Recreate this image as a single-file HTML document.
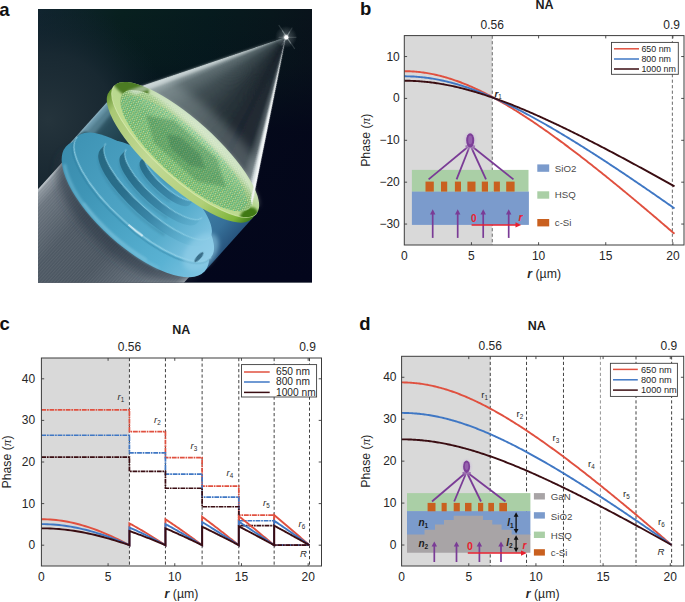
<!DOCTYPE html>
<html><head><meta charset="utf-8"><title>Figure</title>
<style>
html,body{margin:0;padding:0;background:#fff;}
body{width:685px;height:602px;overflow:hidden;font-family:"Liberation Sans",sans-serif;}
svg{display:block;position:absolute;left:0;top:0;}
text{font-family:"Liberation Sans",sans-serif;}
.tk{font-size:12px;fill:#262626;}
.al{font-size:12.3px;fill:#262626;}
.pi{font-family:"Liberation Serif",serif;font-style:italic;font-size:13.2px;}
.bi{font-weight:bold;font-style:italic;}
.na{font-size:12.5px;font-weight:bold;fill:#1c1c1c;}
.pl{font-size:18.5px;font-weight:bold;fill:#111;}
.rl{font-size:9.6px;fill:#2a2a2a;}
</style></head><body>
<svg width="685" height="602" viewBox="0 0 685 602">
<defs>
<radialGradient id="pg"><stop offset="0" stop-color="#b9a2c9" stop-opacity="0.95"/><stop offset="0.55" stop-color="#cdbfd8" stop-opacity="0.6"/><stop offset="1" stop-color="#d9d9d9" stop-opacity="0"/></radialGradient>
</defs>
<defs>
<clipPath id="aclip"><rect x="38" y="9" width="274" height="273.6"/></clipPath>
<filter id="b05" x="-40%" y="-40%" width="180%" height="180%"><feGaussianBlur stdDeviation="0.5"/></filter>
<filter id="b1" x="-40%" y="-40%" width="180%" height="180%"><feGaussianBlur stdDeviation="1.0"/></filter>
<filter id="b2" x="-40%" y="-40%" width="180%" height="180%"><feGaussianBlur stdDeviation="2.2"/></filter>
<filter id="b4" x="-40%" y="-40%" width="180%" height="180%"><feGaussianBlur stdDeviation="5"/></filter>
<filter id="b8" x="-40%" y="-40%" width="180%" height="180%"><feGaussianBlur stdDeviation="9"/></filter>
<linearGradient id="bgC" gradientUnits="userSpaceOnUse" x1="38" y1="0" x2="312" y2="0"><stop offset="0" stop-color="#10242f"/><stop offset="0.3" stop-color="#08201f"/><stop offset="0.62" stop-color="#061b1e"/><stop offset="0.85" stop-color="#08171c"/><stop offset="1" stop-color="#09131b"/></linearGradient>
<linearGradient id="bgD" gradientUnits="userSpaceOnUse" x1="0" y1="9" x2="0" y2="282"><stop offset="0" stop-color="#03051a" stop-opacity="0"/><stop offset="0.2" stop-color="#03051a" stop-opacity="0.15"/><stop offset="0.45" stop-color="#03051a" stop-opacity="0.8"/><stop offset="1" stop-color="#03061c" stop-opacity="1"/></linearGradient>
<radialGradient id="bgA" gradientUnits="userSpaceOnUse" cx="48" cy="120" r="120"><stop offset="0" stop-color="#25343c"/><stop offset="0.55" stop-color="#1a2a33" stop-opacity="0.9"/><stop offset="1" stop-color="#10222c" stop-opacity="0"/></radialGradient>
<radialGradient id="star" gradientUnits="userSpaceOnUse" cx="286" cy="37" r="11"><stop offset="0" stop-color="#fff" stop-opacity="1"/><stop offset="0.1" stop-color="#fff" stop-opacity="0.7"/><stop offset="0.35" stop-color="#dfe8ea" stop-opacity="0.22"/><stop offset="1" stop-color="#dfe8ea" stop-opacity="0"/></radialGradient>
<linearGradient id="beam" gradientUnits="userSpaceOnUse" x1="-83" y1="0" x2="88" y2="0"><stop offset="0" stop-color="#c8cfd4"/><stop offset="0.015" stop-color="#8d969e"/><stop offset="0.08" stop-color="#69737d"/><stop offset="0.3" stop-color="#4d5863"/><stop offset="0.55" stop-color="#4a5560"/><stop offset="0.8" stop-color="#616c77"/><stop offset="0.96" stop-color="#858f98"/><stop offset="1" stop-color="#b5bcc2"/></linearGradient>
<linearGradient id="glass" gradientUnits="userSpaceOnUse" x1="-90" y1="0" x2="96" y2="0"><stop offset="0" stop-color="#9cc0cf"/><stop offset="0.012" stop-color="#6896aa"/><stop offset="0.035" stop-color="#3f6b7b"/><stop offset="0.09" stop-color="#2b5160"/><stop offset="0.22" stop-color="#1d3e4a"/><stop offset="0.6" stop-color="#24505f"/><stop offset="0.78" stop-color="#4186ae"/><stop offset="0.9" stop-color="#3a78a2"/><stop offset="1" stop-color="#2a5a85"/></linearGradient>
<linearGradient id="faceG" gradientUnits="userSpaceOnUse" x1="-90" y1="0" x2="92" y2="0"><stop offset="0" stop-color="#3e93b4"/><stop offset="0.35" stop-color="#4aa0c1"/><stop offset="0.7" stop-color="#55abcb"/><stop offset="0.9" stop-color="#7cc2e0"/><stop offset="1" stop-color="#8ccbe8"/></linearGradient>
<linearGradient id="sideG" gradientUnits="userSpaceOnUse" x1="-92" y1="0" x2="96" y2="0"><stop offset="0" stop-color="#3a8cad"/><stop offset="0.25" stop-color="#3f95b6"/><stop offset="0.5" stop-color="#4aa3c4"/><stop offset="0.8" stop-color="#5ab2d3"/><stop offset="1" stop-color="#7ec4e2"/></linearGradient>
<linearGradient id="wallG" gradientUnits="userSpaceOnUse" x1="-70" y1="0" x2="80" y2="0"><stop offset="0" stop-color="#27677f"/><stop offset="0.35" stop-color="#2a6f8c"/><stop offset="0.6" stop-color="#3a86a7"/><stop offset="0.85" stop-color="#5aaccc" stop-opacity="0.6"/><stop offset="1" stop-color="#6ab8d6" stop-opacity="0"/></linearGradient>
<linearGradient id="rimG" gradientUnits="userSpaceOnUse" x1="-96" y1="0" x2="96" y2="0"><stop offset="0" stop-color="#5f8f2a"/><stop offset="0.08" stop-color="#a9c874"/><stop offset="0.4" stop-color="#c2d996"/><stop offset="0.75" stop-color="#b0cf78"/><stop offset="0.93" stop-color="#7fb53a"/><stop offset="1" stop-color="#3f7a18"/></linearGradient>
<linearGradient id="topG" gradientUnits="userSpaceOnUse" x1="0" y1="-30" x2="0" y2="30"><stop offset="0" stop-color="#c8dfc0"/><stop offset="0.4" stop-color="#b5d58f"/><stop offset="1" stop-color="#c2de8e"/></linearGradient>
<linearGradient id="patG" gradientUnits="userSpaceOnUse" x1="0" y1="-28" x2="0" y2="28"><stop offset="0" stop-color="#bfd9b4"/><stop offset="0.22" stop-color="#98c486"/><stop offset="0.5" stop-color="#76ae66"/><stop offset="1" stop-color="#80b560"/></linearGradient>
<pattern id="dots" width="3.4" height="5.9" patternUnits="userSpaceOnUse"><circle cx="0.85" cy="1.5" r="0.95" fill="#e0efb6"/><circle cx="2.55" cy="4.45" r="0.95" fill="#e0efb6"/></pattern>
<pattern id="dots2" width="6.8" height="5.9" patternUnits="userSpaceOnUse"><circle cx="0.85" cy="4.45" r="1.0" fill="#1fb5a2"/><circle cx="4.25" cy="1.5" r="1.0" fill="#1fb5a2"/></pattern>
<pattern id="hatch" width="2.4" height="2.4" patternUnits="userSpaceOnUse"><rect x="0" y="0" width="1.1" height="2.4" fill="#fff" fill-opacity="0.07"/></pattern>
<clipPath id="coneclip"><path d="M-0.6,-150.9 L-82.6,-4.6 L-70,12 L0,22 L70,12 L85.6,-4.6 Z"/></clipPath><clipPath id="diskclip"><path clip-rule="evenodd" d="M-95.5,0 A95.5,29.5 0 1 0 95.5,0 A95.5,29.5 0 1 0 -95.5,0 Z M-84,0.3 A85.5,27.2 0 1 1 87,0.3 A85.5,27.2 0 1 1 -84,0.3 Z"/></clipPath>
</defs>
<g clip-path="url(#aclip)">
<rect x="38" y="9" width="274" height="273.6" fill="#060b1d"/>
<rect x="38" y="9" width="274" height="273.6" fill="url(#bgC)"/>
<rect x="38" y="9" width="274" height="273.6" fill="url(#bgD)"/>
<rect x="38" y="9" width="274" height="273.6" fill="url(#bgA)"/>
<g transform="translate(185.5 149.5) rotate(42.0)">
<rect x="-83" y="70" width="171" height="260" fill="url(#beam)"/>
<rect x="-83" y="70" width="171" height="260" fill="url(#hatch)"/>
<ellipse cx="2" cy="86" rx="90" ry="42" fill="#2c3742" fill-opacity="0.55" filter="url(#b4)"/>
<path d="M-90,-2 L-90,78 A93,37.4 0 0 0 95.8,78 L95.8,-2 Z" fill="url(#glass)" fill-opacity="0.93"/>
<path d="M-89,0 L-89,60 L-78,50 L-80,5 Z" fill="#7fb0c2" fill-opacity="0.35" filter="url(#b1)"/>
<ellipse cx="-84" cy="62" rx="5" ry="9" fill="#12303c" fill-opacity="0.75" filter="url(#b1)"/>
<ellipse cx="2.5" cy="77.7" rx="93.3" ry="37.4" fill="url(#sideG)"/>
<path d="M-80,92 A93.3,37.4 0 0 0 60,106" fill="none" stroke="#79c3de" stroke-width="3" stroke-opacity="0.5" filter="url(#b1)"/>
<path d="M-40,108 A93.3,37.4 0 0 0 45,108" fill="none" stroke="#8fd0e8" stroke-width="2.2" stroke-opacity="0.5" filter="url(#b1)"/>
<ellipse cx="1" cy="63.1" rx="90" ry="31" fill="url(#faceG)"/>
<path d="M-89,63.1 A90,31 0 0 0 91,63.1" fill="none" stroke="#9ad6ea" stroke-width="1.3" stroke-opacity="0.8" filter="url(#b05)"/>
<path d="M-89,65.5 A90,31 0 0 0 91,65.5" fill="none" stroke="#2f7f9f" stroke-width="1.6" stroke-opacity="0.45" filter="url(#b05)"/>
<path d="M8,94.1 A90,31 0 0 0 26,93" fill="none" stroke="#eef9fc" stroke-width="1.8" stroke-opacity="0.7" filter="url(#b05)"/>
<path d="M-63.2,48.8 L-63.2,57.3 A70,21.7 0 0 0 76.8,57.3 L76.8,48.8 A70,21.7 0 0 1 -63.2,48.8 Z" fill="url(#wallG)"/>
<path d="M-60.2,58.8 A67,21.7 0 0 0 41.8,77.679" fill="none" stroke="#2a6d8a" stroke-width="2" stroke-opacity="0.35" filter="url(#b1)"/>
<ellipse cx="6.8" cy="48.8" rx="70" ry="21.7" fill="url(#faceG)"/>
<path d="M-63.2,48.8 A70,21.7 0 0 0 76.8,48.8" fill="none" stroke="#8fd0e6" stroke-width="1.1" stroke-opacity="0.75" filter="url(#b05)"/>
<path d="M-44.1,39.5 L-44.1,47.5 A51,16.2 0 0 0 57.9,47.5 L57.9,39.5 A51,16.2 0 0 1 -44.1,39.5 Z" fill="url(#wallG)"/>
<path d="M-41.1,49.0 A48,16.2 0 0 0 32.4,63.094" fill="none" stroke="#2a6d8a" stroke-width="2" stroke-opacity="0.35" filter="url(#b1)"/>
<ellipse cx="6.9" cy="39.5" rx="51" ry="16.2" fill="url(#faceG)"/>
<path d="M-44.1,39.5 A51,16.2 0 0 0 57.9,39.5" fill="none" stroke="#8fd0e6" stroke-width="1.1" stroke-opacity="0.75" filter="url(#b05)"/>
<path d="M-26,31.0 L-26,38.5 A33,10.5 0 0 0 40,38.5 L40,31.0 A33,10.5 0 0 1 -26,31.0 Z" fill="url(#wallG)"/>
<path d="M-23,40.0 A30,10.5 0 0 0 23.5,49.135" fill="none" stroke="#2a6d8a" stroke-width="2" stroke-opacity="0.35" filter="url(#b1)"/>
<ellipse cx="7" cy="31.0" rx="33" ry="10.5" fill="url(#faceG)"/>
<path d="M-26,31.0 A33,10.5 0 0 0 40,31.0" fill="none" stroke="#8fd0e6" stroke-width="1.1" stroke-opacity="0.75" filter="url(#b05)"/>
<path d="M-10,24 L-10,30 A17,5.5 0 0 0 24,30 L24,24 A17,5.5 0 0 1 -10,24 Z" fill="url(#wallG)"/>
<path d="M-7,31.5 A14,5.5 0 0 0 15.5,36.285" fill="none" stroke="#2a6d8a" stroke-width="2" stroke-opacity="0.35" filter="url(#b1)"/>
<ellipse cx="7" cy="24" rx="17" ry="5.5" fill="url(#faceG)"/>
<path d="M-10,24 A17,5.5 0 0 0 24,24" fill="none" stroke="#8fd0e6" stroke-width="1.1" stroke-opacity="0.75" filter="url(#b05)"/>
<ellipse cx="80" cy="66" rx="14" ry="22" fill="#93d0ea" fill-opacity="0.55" filter="url(#b2)"/>
<ellipse cx="82" cy="71" rx="2" ry="6.5" fill="#2a5d78" fill-opacity="0.85" filter="url(#b05)"/>
<g clip-path="url(#coneclip)" filter="url(#b05)">
<path d="M-0.6,-150.9 L-113.1,49.8 L-110.8,51.1 Z" fill="rgb(202, 213, 215)" fill-opacity="1.00"/>
<path d="M-0.6,-150.9 L-112.4,50.2 L-108.4,52.3 Z" fill="rgb(178, 191, 193)" fill-opacity="1.00"/>
<path d="M-0.6,-150.9 L-110.0,51.4 L-106.0,53.6 Z" fill="rgb(154, 169, 172)" fill-opacity="1.00"/>
<path d="M-0.6,-150.9 L-107.7,52.7 L-103.7,54.8 Z" fill="rgb(143, 158, 161)" fill-opacity="1.00"/>
<path d="M-0.6,-150.9 L-105.3,53.9 L-101.3,55.9 Z" fill="rgb(134, 149, 152)" fill-opacity="1.00"/>
<path d="M-0.6,-150.9 L-102.9,55.1 L-98.9,57.1 Z" fill="rgb(126, 141, 144)" fill-opacity="1.00"/>
<path d="M-0.6,-150.9 L-100.5,56.3 L-96.4,58.2 Z" fill="rgb(117, 132, 136)" fill-opacity="1.00"/>
<path d="M-0.6,-150.9 L-98.1,57.4 L-94.0,59.3 Z" fill="rgb(108, 123, 127)" fill-opacity="1.00"/>
<path d="M-0.6,-150.9 L-95.7,58.6 L-91.6,60.4 Z" fill="rgb(100, 115, 119)" fill-opacity="1.00"/>
<path d="M-0.6,-150.9 L-93.3,59.7 L-89.1,61.4 Z" fill="rgb(94, 109, 113)" fill-opacity="1.00"/>
<path d="M-0.6,-150.9 L-90.8,60.7 L-86.7,62.4 Z" fill="rgb(92, 107, 111)" fill-opacity="1.00"/>
<path d="M-0.6,-150.9 L-88.4,61.7 L-84.2,63.4 Z" fill="rgb(90, 105, 109)" fill-opacity="1.00"/>
<path d="M-0.6,-150.9 L-85.9,62.7 L-81.7,64.4 Z" fill="rgb(88, 102, 107)" fill-opacity="1.00"/>
<path d="M-0.6,-150.9 L-83.4,63.7 L-79.2,65.3 Z" fill="rgb(86, 100, 105)" fill-opacity="1.00"/>
<path d="M-0.6,-150.9 L-80.9,64.7 L-76.7,66.2 Z" fill="rgb(83, 98, 102)" fill-opacity="1.00"/>
<path d="M-0.6,-150.9 L-78.4,65.6 L-74.1,67.1 Z" fill="rgb(81, 96, 100)" fill-opacity="1.00"/>
<path d="M-0.6,-150.9 L-75.9,66.5 L-71.6,67.9 Z" fill="rgb(79, 93, 98)" fill-opacity="1.00"/>
<path d="M-0.6,-150.9 L-73.4,67.3 L-69.1,68.7 Z" fill="rgb(77, 91, 96)" fill-opacity="1.00"/>
<path d="M-0.6,-150.9 L-70.8,68.2 L-66.5,69.5 Z" fill="rgb(74, 89, 93)" fill-opacity="1.00"/>
<path d="M-0.6,-150.9 L-68.3,69.0 L-64.0,70.2 Z" fill="rgb(72, 86, 91)" fill-opacity="1.00"/>
<path d="M-0.6,-150.9 L-65.7,69.7 L-61.4,71.0 Z" fill="rgb(70, 84, 89)" fill-opacity="1.00"/>
<path d="M-0.6,-150.9 L-63.2,70.5 L-58.8,71.7 Z" fill="rgb(68, 82, 87)" fill-opacity="1.00"/>
<path d="M-0.6,-150.9 L-60.6,71.2 L-56.2,72.3 Z" fill="rgb(66, 80, 85)" fill-opacity="1.00"/>
<path d="M-0.6,-150.9 L-58.0,71.9 L-53.6,72.9 Z" fill="rgb(65, 78, 83)" fill-opacity="1.00"/>
<path d="M-0.6,-150.9 L-55.4,72.5 L-51.0,73.5 Z" fill="rgb(64, 77, 82)" fill-opacity="1.00"/>
<path d="M-0.6,-150.9 L-52.8,73.1 L-48.4,74.1 Z" fill="rgb(63, 76, 81)" fill-opacity="1.00"/>
<path d="M-0.6,-150.9 L-50.2,73.7 L-45.8,74.7 Z" fill="rgb(62, 75, 80)" fill-opacity="1.00"/>
<path d="M-0.6,-150.9 L-47.6,74.3 L-43.2,75.2 Z" fill="rgb(61, 74, 79)" fill-opacity="1.00"/>
<path d="M-0.6,-150.9 L-45.0,74.8 L-40.6,75.6 Z" fill="rgb(60, 73, 78)" fill-opacity="1.00"/>
<path d="M-0.6,-150.9 L-42.4,75.3 L-38.0,76.1 Z" fill="rgb(59, 72, 77)" fill-opacity="1.00"/>
<path d="M-0.6,-150.9 L-39.8,75.8 L-35.3,76.5 Z" fill="rgb(58, 71, 76)" fill-opacity="1.00"/>
<path d="M-0.6,-150.9 L-37.1,76.2 L-32.7,76.9 Z" fill="rgb(57, 70, 75)" fill-opacity="1.00"/>
<path d="M-0.6,-150.9 L-34.5,76.6 L-30.0,77.3 Z" fill="rgb(56, 68, 74)" fill-opacity="1.00"/>
<path d="M-0.6,-150.9 L-31.9,77.0 L-27.4,77.6 Z" fill="rgb(55, 67, 73)" fill-opacity="1.00"/>
<path d="M-0.6,-150.9 L-29.2,77.4 L-24.7,77.9 Z" fill="rgb(54, 66, 72)" fill-opacity="1.00"/>
<path d="M-0.6,-150.9 L-26.6,77.7 L-22.1,78.1 Z" fill="rgb(53, 65, 71)" fill-opacity="1.00"/>
<path d="M-0.6,-150.9 L-23.9,78.0 L-19.4,78.4 Z" fill="rgb(52, 64, 70)" fill-opacity="1.00"/>
<path d="M-0.6,-150.9 L-21.3,78.2 L-16.8,78.6 Z" fill="rgb(51, 63, 69)" fill-opacity="1.00"/>
<path d="M-0.6,-150.9 L-18.6,78.4 L-14.1,78.8 Z" fill="rgb(50, 62, 67)" fill-opacity="1.00"/>
<path d="M-0.6,-150.9 L-16.0,78.6 L-11.5,78.9 Z" fill="rgb(49, 61, 66)" fill-opacity="1.00"/>
<path d="M-0.6,-150.9 L-13.3,78.8 L-8.8,79.0 Z" fill="rgb(48, 60, 65)" fill-opacity="1.00"/>
<path d="M-0.6,-150.9 L-10.6,78.9 L-6.1,79.1 Z" fill="rgb(47, 58, 64)" fill-opacity="1.00"/>
<path d="M-0.6,-150.9 L-8.0,79.0 L-3.5,79.1 Z" fill="rgb(46, 57, 63)" fill-opacity="1.00"/>
<path d="M-0.6,-150.9 L-5.3,79.1 L-0.8,79.1 Z" fill="rgb(45, 56, 62)" fill-opacity="1.00"/>
<path d="M-0.6,-150.9 L-2.6,79.1 L1.9,79.1 Z" fill="rgb(44, 55, 61)" fill-opacity="1.00"/>
<path d="M-0.6,-150.9 L0.0,79.1 L4.5,79.1 Z" fill="rgb(43, 54, 60)" fill-opacity="1.00"/>
<path d="M-0.6,-150.9 L2.7,79.1 L7.2,79.0 Z" fill="rgb(43, 54, 60)" fill-opacity="1.00"/>
<path d="M-0.6,-150.9 L5.4,79.1 L9.9,78.9 Z" fill="rgb(42, 53, 59)" fill-opacity="1.00"/>
<path d="M-0.6,-150.9 L8.0,79.0 L12.5,78.8 Z" fill="rgb(41, 52, 58)" fill-opacity="1.00"/>
<path d="M-0.6,-150.9 L10.7,78.9 L15.2,78.6 Z" fill="rgb(41, 52, 58)" fill-opacity="1.00"/>
<path d="M-0.6,-150.9 L13.4,78.7 L17.9,78.4 Z" fill="rgb(40, 51, 57)" fill-opacity="1.00"/>
<path d="M-0.6,-150.9 L16.0,78.5 L20.5,78.2 Z" fill="rgb(40, 50, 57)" fill-opacity="1.00"/>
<path d="M-0.6,-150.9 L18.7,78.3 L23.2,77.9 Z" fill="rgb(39, 50, 56)" fill-opacity="1.00"/>
<path d="M-0.6,-150.9 L21.3,78.1 L25.8,77.6 Z" fill="rgb(39, 49, 56)" fill-opacity="1.00"/>
<path d="M-0.6,-150.9 L24.0,77.8 L28.5,77.3 Z" fill="rgb(38, 48, 55)" fill-opacity="1.00"/>
<path d="M-0.6,-150.9 L26.6,77.5 L31.1,77.0 Z" fill="rgb(37, 48, 54)" fill-opacity="1.00"/>
<path d="M-0.6,-150.9 L29.3,77.2 L33.8,76.6 Z" fill="rgb(37, 47, 54)" fill-opacity="1.00"/>
<path d="M-0.6,-150.9 L31.9,76.8 L36.4,76.2 Z" fill="rgb(36, 46, 53)" fill-opacity="1.00"/>
<path d="M-0.6,-150.9 L34.6,76.4 L39.0,75.7 Z" fill="rgb(36, 46, 53)" fill-opacity="1.00"/>
<path d="M-0.6,-150.9 L37.2,76.0 L41.6,75.2 Z" fill="rgb(35, 45, 52)" fill-opacity="1.00"/>
<path d="M-0.6,-150.9 L39.8,75.6 L44.3,74.7 Z" fill="rgb(35, 44, 52)" fill-opacity="1.00"/>
<path d="M-0.6,-150.9 L42.5,75.1 L46.9,74.2 Z" fill="rgb(34, 44, 51)" fill-opacity="1.00"/>
<path d="M-0.6,-150.9 L45.1,74.6 L49.5,73.6 Z" fill="rgb(33, 43, 50)" fill-opacity="1.00"/>
<path d="M-0.6,-150.9 L47.7,74.0 L52.1,73.0 Z" fill="rgb(33, 42, 50)" fill-opacity="1.00"/>
<path d="M-0.6,-150.9 L50.3,73.5 L54.7,72.4 Z" fill="rgb(32, 42, 49)" fill-opacity="1.00"/>
<path d="M-0.6,-150.9 L52.9,72.8 L57.3,71.8 Z" fill="rgb(32, 41, 49)" fill-opacity="1.00"/>
<path d="M-0.6,-150.9 L55.5,72.2 L59.8,71.1 Z" fill="rgb(31, 40, 48)" fill-opacity="1.00"/>
<path d="M-0.6,-150.9 L58.1,71.5 L62.4,70.4 Z" fill="rgb(31, 40, 48)" fill-opacity="1.00"/>
<path d="M-0.6,-150.9 L60.6,70.8 L65.0,69.6 Z" fill="rgb(31, 40, 48)" fill-opacity="1.00"/>
<path d="M-0.6,-150.9 L63.2,70.1 L67.5,68.8 Z" fill="rgb(31, 40, 48)" fill-opacity="1.00"/>
<path d="M-0.6,-150.9 L65.8,69.4 L70.1,68.0 Z" fill="rgb(32, 41, 49)" fill-opacity="1.00"/>
<path d="M-0.6,-150.9 L68.3,68.6 L72.6,67.2 Z" fill="rgb(32, 41, 49)" fill-opacity="1.00"/>
<path d="M-0.6,-150.9 L70.8,67.8 L75.1,66.3 Z" fill="rgb(32, 42, 50)" fill-opacity="1.00"/>
<path d="M-0.6,-150.9 L73.4,66.9 L77.6,65.4 Z" fill="rgb(33, 42, 50)" fill-opacity="1.00"/>
<path d="M-0.6,-150.9 L75.9,66.1 L80.1,64.5 Z" fill="rgb(33, 43, 51)" fill-opacity="1.00"/>
<path d="M-0.6,-150.9 L78.4,65.2 L82.6,63.6 Z" fill="rgb(33, 43, 51)" fill-opacity="1.00"/>
<path d="M-0.6,-150.9 L80.9,64.2 L85.1,62.6 Z" fill="rgb(34, 44, 52)" fill-opacity="1.00"/>
<path d="M-0.6,-150.9 L83.4,63.3 L87.6,61.6 Z" fill="rgb(34, 44, 52)" fill-opacity="1.00"/>
<path d="M-0.6,-150.9 L85.9,62.3 L90.0,60.5 Z" fill="rgb(35, 44, 52)" fill-opacity="1.00"/>
<path d="M-0.6,-150.9 L88.3,61.3 L92.5,59.5 Z" fill="rgb(35, 45, 53)" fill-opacity="1.00"/>
<path d="M-0.6,-150.9 L90.8,60.2 L94.9,58.4 Z" fill="rgb(35, 45, 53)" fill-opacity="1.00"/>
<path d="M-0.6,-150.9 L93.2,59.1 L97.3,57.3 Z" fill="rgb(40, 51, 58)" fill-opacity="1.00"/>
<path d="M-0.6,-150.9 L95.7,58.0 L99.7,56.1 Z" fill="rgb(51, 61, 69)" fill-opacity="1.00"/>
<path d="M-0.6,-150.9 L98.1,56.9 L102.1,54.9 Z" fill="rgb(61, 71, 79)" fill-opacity="1.00"/>
<path d="M-0.6,-150.9 L100.5,55.8 L104.5,53.7 Z" fill="rgb(71, 82, 89)" fill-opacity="1.00"/>
<path d="M-0.6,-150.9 L102.9,54.6 L106.9,52.5 Z" fill="rgb(80, 92, 98)" fill-opacity="1.00"/>
<path d="M-0.6,-150.9 L105.2,53.4 L109.2,51.2 Z" fill="rgb(96, 107, 113)" fill-opacity="1.00"/>
<path d="M-0.6,-150.9 L107.6,52.1 L111.6,50.0 Z" fill="rgb(158, 167, 171)" fill-opacity="1.00"/>
<path d="M-0.6,-150.9 L110.0,50.8 L113.9,48.6 Z" fill="rgb(220, 227, 229)" fill-opacity="1.00"/>
<path d="M-0.6,-150.9 L112.3,49.5 L116.2,47.3 Z" fill="rgb(242, 246, 246)" fill-opacity="1.00"/>
</g>
<ellipse cx="0" cy="-26" rx="80" ry="20" fill="#b9c8c8" fill-opacity="0.28" filter="url(#b4)" clip-path="url(#coneclip)"/>
<ellipse cx="0" cy="7.5" rx="95.5" ry="29.8" fill="url(#rimG)"/>
<rect x="-95.5" y="0" width="191" height="7.5" fill="url(#rimG)"/>
<ellipse cx="0" cy="0" rx="95.5" ry="29.5" fill="url(#topG)"/>
<path d="M-95.5,0 A95.5,29.5 0 0 0 95.5,0" fill="none" stroke="#dcecb8" stroke-width="1" stroke-opacity="0.7"/>
<ellipse cx="1.5" cy="0.3" rx="85.5" ry="27.2" fill="url(#patG)"/>
<g transform="translate(1.5 0.3) scale(1 0.36)"><ellipse cx="0" cy="0" rx="85.5" ry="75.6" fill="url(#dots)"/><ellipse cx="0" cy="10" rx="82" ry="66.7" fill="url(#dots2)" fill-opacity="0.9"/></g>
<path d="M-52,1 L-28,-14 L30,-14 L55,1 L30,16 L-28,16 Z" fill="#2c7443" fill-opacity="0.30" filter="url(#b1)"/>
<path d="M-24,1 L-12,-6.5 L14,-6.5 L27,1 L14,9 L-12,9 Z" fill="#275f3c" fill-opacity="0.25" filter="url(#b1)"/>
<path d="M-70,-18 A95.5,29.5 0 0 1 94,-6 A120,26 0 0 0 -70,-18 Z" fill="#eef4ec" fill-opacity="0.5" filter="url(#b2)"/>
<g clip-path="url(#diskclip)">
<ellipse cx="-88" cy="-13" rx="24" ry="14" fill="#47761f" fill-opacity="0.95" filter="url(#b1)"/>
<ellipse cx="92" cy="8" rx="8" ry="11" fill="#3a7412" fill-opacity="0.95" filter="url(#b1)"/>
</g>
<path d="M-0.6,-150.9 L87.1,-2.6 L82.1,-6.6 Z" fill="#f6f9fa" fill-opacity="0.92" filter="url(#b05)"/>
<path d="M-0.6,-150.9 L-82.6,-4.6 L-73.6,-7.6 Z" fill="#e9f0f0" fill-opacity="0.5" filter="url(#b1)"/>
</g>
<circle cx="286" cy="37" r="11" fill="url(#star)"/>
<g filter="url(#b05)" stroke="#dfeaec" stroke-linecap="round">
<line x1="279" y1="25.5" x2="294.5" y2="48.5" stroke-width="1.2" stroke-opacity="0.16"/>
<line x1="282.5" y1="31" x2="290.5" y2="43" stroke-width="1.2" stroke-opacity="0.3"/>
<line x1="292" y1="28" x2="282" y2="45" stroke-width="1.2" stroke-opacity="0.14"/>
<line x1="289.5" y1="32" x2="284" y2="41.5" stroke-width="1.2" stroke-opacity="0.28"/>
<line x1="279" y1="37.3" x2="296" y2="37.3" stroke-width="1" stroke-opacity="0.2"/>
</g>
<circle cx="286.3" cy="37.4" r="2.1" fill="#fff" filter="url(#b05)"/>
</g>
<rect x="404.3" y="35.6" width="87.97" height="209.4" fill="#d9d9d9"/>
<line x1="492.27" y1="35.60" x2="492.27" y2="245.00" stroke="#5a5a5a" stroke-width="0.9" stroke-dasharray="3.2 2.3"/>
<line x1="672.36" y1="35.60" x2="672.36" y2="245.00" stroke="#5a5a5a" stroke-width="0.9" stroke-dasharray="3.2 2.3"/>
<g>
<rect x="411.9" y="169.9" width="116.6" height="21.9" fill="#aacfa6"/>
<rect x="411.9" y="191.6" width="117" height="33.3" fill="#7b9bcc"/>
<rect x="425.5" y="181.6" width="8.3" height="10" fill="#c9601f"/>
<rect x="441" y="181.6" width="6.2" height="10" fill="#c9601f"/>
<rect x="454.9" y="181.6" width="6.1" height="10" fill="#c9601f"/>
<rect x="467.4" y="181.6" width="8.1" height="10" fill="#c9601f"/>
<rect x="481.8" y="181.6" width="6.2" height="10" fill="#c9601f"/>
<rect x="493.8" y="181.6" width="6.1" height="10" fill="#c9601f"/>
<rect x="506.2" y="181.6" width="8.4" height="10" fill="#c9601f"/>
<line x1="470.2" y1="145" x2="428.6" y2="179.4" stroke="#7a3b96" stroke-width="1.8"/>
<line x1="470.2" y1="145" x2="456.6" y2="179.4" stroke="#7a3b96" stroke-width="1.8"/>
<line x1="470.2" y1="145" x2="486" y2="179.4" stroke="#7a3b96" stroke-width="1.8"/>
<line x1="470.2" y1="145" x2="513.5" y2="179.4" stroke="#7a3b96" stroke-width="1.8"/>
<path d="M465.6,146.6 L470.2,144.4 L474.8,146.6" fill="none" stroke="#7a3b96" stroke-width="1.8"/>
<ellipse cx="470.2" cy="140.4" rx="8.4" ry="11.520000000000001" fill="url(#pg)"/>
<ellipse cx="470.2" cy="140.4" rx="4.0" ry="7.2" fill="#7d3f98"/>
<ellipse cx="470.2" cy="139.9" rx="2.0" ry="4.32" fill="#9560ad"/>
<line x1="432.7" y1="237.9" x2="432.7" y2="212.3" stroke="#7a3b96" stroke-width="1.7"/>
<path d="M430.0,214.5 L432.7,209.3 L435.4,214.5 Z" fill="#7a3b96"/>
<line x1="457.7" y1="237.9" x2="457.7" y2="212.3" stroke="#7a3b96" stroke-width="1.7"/>
<path d="M455.0,214.5 L457.7,209.3 L460.4,214.5 Z" fill="#7a3b96"/>
<line x1="483.2" y1="237.9" x2="483.2" y2="212.3" stroke="#7a3b96" stroke-width="1.7"/>
<path d="M480.5,214.5 L483.2,209.3 L485.9,214.5 Z" fill="#7a3b96"/>
<line x1="508.7" y1="237.9" x2="508.7" y2="212.3" stroke="#7a3b96" stroke-width="1.7"/>
<path d="M506.0,214.5 L508.7,209.3 L511.4,214.5 Z" fill="#7a3b96"/>
<line x1="471.6" y1="224.9" x2="517" y2="224.9" stroke="#e8202e" stroke-width="1.5"/>
<path d="M515.5,222.3 L521.2,224.9 L515.5,227.5 Z" fill="#e8202e"/>
<text x="471" y="222" font-size="10" font-weight="bold" fill="#e8202e">0</text>
<text x="518.5" y="221" font-size="10.5" font-weight="bold" font-style="italic" fill="#e8202e">r</text>
<rect x="537.3" y="164.4" width="11.9" height="7.4" fill="#7b9bcc"/>
<text x="554.8" y="172.1" font-size="9.7" fill="#4a4a4a">SiO2</text>
<rect x="537.3" y="191.3" width="11.9" height="7.4" fill="#aacfa6"/>
<text x="554.8" y="198.4" font-size="9.7" fill="#4a4a4a">HSQ</text>
<rect x="537.3" y="219" width="11.9" height="7.4" fill="#c9601f"/>
<text x="554.8" y="226" font-size="9.7" fill="#4a4a4a">c-Si</text>
</g>
<path d="M404.30,71.20 L405.65,71.21 L407.00,71.23 L408.35,71.26 L409.70,71.31 L411.06,71.37 L412.41,71.44 L413.76,71.53 L415.11,71.63 L416.46,71.74 L417.81,71.87 L419.16,72.01 L420.51,72.16 L421.86,72.33 L423.21,72.51 L424.57,72.70 L425.92,72.91 L427.27,73.13 L428.62,73.36 L429.97,73.60 L431.32,73.86 L432.67,74.12 L434.02,74.41 L435.37,74.70 L436.73,75.01 L438.08,75.32 L439.43,75.65 L440.78,76.00 L442.13,76.35 L443.48,76.72 L444.83,77.10 L446.18,77.49 L447.53,77.89 L448.88,78.30 L450.24,78.72 L451.59,79.16 L452.94,79.61 L454.29,80.06 L455.64,80.53 L456.99,81.01 L458.34,81.50 L459.69,82.00 L461.04,82.51 L462.40,83.04 L463.75,83.57 L465.10,84.11 L466.45,84.66 L467.80,85.22 L469.15,85.79 L470.50,86.38 L471.85,86.97 L473.20,87.57 L474.56,88.18 L475.91,88.79 L477.26,89.42 L478.61,90.06 L479.96,90.70 L481.31,91.36 L482.66,92.02 L484.01,92.69 L485.36,93.37 L486.71,94.06 L488.07,94.75 L489.42,95.46 L490.77,96.17 L492.12,96.89 L493.47,97.61 L494.82,98.35 L496.17,99.09 L497.52,99.84 L498.87,100.60 L500.23,101.36 L501.58,102.13 L502.93,102.91 L504.28,103.69 L505.63,104.48 L506.98,105.28 L508.33,106.08 L509.68,106.90 L511.03,107.71 L512.38,108.54 L513.74,109.36 L515.09,110.20 L516.44,111.04 L517.79,111.89 L519.14,112.74 L520.49,113.60 L521.84,114.46 L523.19,115.33 L524.54,116.21 L525.90,117.09 L527.25,117.98 L528.60,118.87 L529.95,119.76 L531.30,120.66 L532.65,121.57 L534.00,122.48 L535.35,123.40 L536.70,124.32 L538.05,125.24 L539.41,126.17 L540.76,127.10 L542.11,128.04 L543.46,128.99 L544.81,129.93 L546.16,130.88 L547.51,131.84 L548.86,132.80 L550.21,133.76 L551.57,134.73 L552.92,135.70 L554.27,136.68 L555.62,137.66 L556.97,138.64 L558.32,139.63 L559.67,140.62 L561.02,141.61 L562.37,142.61 L563.72,143.61 L565.08,144.61 L566.43,145.62 L567.78,146.63 L569.13,147.65 L570.48,148.66 L571.83,149.68 L573.18,150.71 L574.53,151.73 L575.88,152.76 L577.24,153.80 L578.59,154.83 L579.94,155.87 L581.29,156.91 L582.64,157.96 L583.99,159.00 L585.34,160.05 L586.69,161.11 L588.04,162.16 L589.39,163.22 L590.75,164.28 L592.10,165.34 L593.45,166.41 L594.80,167.48 L596.15,168.55 L597.50,169.62 L598.85,170.69 L600.20,171.77 L601.55,172.85 L602.91,173.93 L604.26,175.02 L605.61,176.10 L606.96,177.19 L608.31,178.28 L609.66,179.37 L611.01,180.47 L612.36,181.57 L613.71,182.66 L615.07,183.77 L616.42,184.87 L617.77,185.97 L619.12,187.08 L620.47,188.19 L621.82,189.30 L623.17,190.41 L624.52,191.52 L625.87,192.64 L627.22,193.76 L628.58,194.88 L629.93,196.00 L631.28,197.12 L632.63,198.24 L633.98,199.37 L635.33,200.50 L636.68,201.63 L638.03,202.76 L639.38,203.89 L640.74,205.02 L642.09,206.16 L643.44,207.30 L644.79,208.43 L646.14,209.57 L647.49,210.72 L648.84,211.86 L650.19,213.00 L651.54,214.15 L652.89,215.29 L654.25,216.44 L655.60,217.59 L656.95,218.74 L658.30,219.90 L659.65,221.05 L661.00,222.20 L662.35,223.36 L663.70,224.52 L665.05,225.67 L666.41,226.83 L667.76,228.00 L669.11,229.16 L670.46,230.32 L671.81,231.48 L673.16,232.65 L674.51,233.82" fill="none" stroke="#e0503f" stroke-width="1.9"/>
<path d="M404.30,76.31 L405.65,76.31 L407.00,76.33 L408.35,76.36 L409.70,76.39 L411.06,76.44 L412.41,76.50 L413.76,76.57 L415.11,76.65 L416.46,76.75 L417.81,76.85 L419.16,76.96 L420.51,77.09 L421.86,77.22 L423.21,77.37 L424.57,77.52 L425.92,77.69 L427.27,77.87 L428.62,78.06 L429.97,78.25 L431.32,78.46 L432.67,78.68 L434.02,78.91 L435.37,79.15 L436.73,79.40 L438.08,79.65 L439.43,79.92 L440.78,80.20 L442.13,80.49 L443.48,80.79 L444.83,81.09 L446.18,81.41 L447.53,81.74 L448.88,82.07 L450.24,82.42 L451.59,82.77 L452.94,83.13 L454.29,83.51 L455.64,83.89 L456.99,84.28 L458.34,84.67 L459.69,85.08 L461.04,85.50 L462.40,85.92 L463.75,86.35 L465.10,86.79 L466.45,87.24 L467.80,87.70 L469.15,88.16 L470.50,88.63 L471.85,89.11 L473.20,89.60 L474.56,90.10 L475.91,90.60 L477.26,91.11 L478.61,91.63 L479.96,92.15 L481.31,92.68 L482.66,93.22 L484.01,93.76 L485.36,94.32 L486.71,94.87 L488.07,95.44 L489.42,96.01 L490.77,96.59 L492.12,97.17 L493.47,97.76 L494.82,98.36 L496.17,98.96 L497.52,99.57 L498.87,100.19 L500.23,100.81 L501.58,101.43 L502.93,102.07 L504.28,102.70 L505.63,103.35 L506.98,103.99 L508.33,104.65 L509.68,105.31 L511.03,105.97 L512.38,106.64 L513.74,107.31 L515.09,107.99 L516.44,108.67 L517.79,109.36 L519.14,110.06 L520.49,110.75 L521.84,111.46 L523.19,112.16 L524.54,112.87 L525.90,113.59 L527.25,114.31 L528.60,115.03 L529.95,115.76 L531.30,116.49 L532.65,117.23 L534.00,117.97 L535.35,118.71 L536.70,119.46 L538.05,120.21 L539.41,120.97 L540.76,121.73 L542.11,122.49 L543.46,123.25 L544.81,124.02 L546.16,124.80 L547.51,125.57 L548.86,126.35 L550.21,127.14 L551.57,127.92 L552.92,128.71 L554.27,129.50 L555.62,130.30 L556.97,131.10 L558.32,131.90 L559.67,132.71 L561.02,133.51 L562.37,134.32 L563.72,135.14 L565.08,135.95 L566.43,136.77 L567.78,137.59 L569.13,138.42 L570.48,139.24 L571.83,140.07 L573.18,140.90 L574.53,141.74 L575.88,142.58 L577.24,143.41 L578.59,144.26 L579.94,145.10 L581.29,145.95 L582.64,146.79 L583.99,147.65 L585.34,148.50 L586.69,149.35 L588.04,150.21 L589.39,151.07 L590.75,151.93 L592.10,152.79 L593.45,153.66 L594.80,154.53 L596.15,155.40 L597.50,156.27 L598.85,157.14 L600.20,158.02 L601.55,158.90 L602.91,159.77 L604.26,160.65 L605.61,161.54 L606.96,162.42 L608.31,163.31 L609.66,164.20 L611.01,165.09 L612.36,165.98 L613.71,166.87 L615.07,167.76 L616.42,168.66 L617.77,169.56 L619.12,170.46 L620.47,171.36 L621.82,172.26 L623.17,173.16 L624.52,174.07 L625.87,174.97 L627.22,175.88 L628.58,176.79 L629.93,177.70 L631.28,178.61 L632.63,179.53 L633.98,180.44 L635.33,181.36 L636.68,182.28 L638.03,183.19 L639.38,184.11 L640.74,185.04 L642.09,185.96 L643.44,186.88 L644.79,187.81 L646.14,188.73 L647.49,189.66 L648.84,190.59 L650.19,191.52 L651.54,192.45 L652.89,193.38 L654.25,194.31 L655.60,195.25 L656.95,196.18 L658.30,197.12 L659.65,198.06 L661.00,198.99 L662.35,199.93 L663.70,200.87 L665.05,201.81 L666.41,202.76 L667.76,203.70 L669.11,204.64 L670.46,205.59 L671.81,206.53 L673.16,207.48 L674.51,208.43" fill="none" stroke="#3f77c4" stroke-width="1.9"/>
<path d="M404.30,80.73 L405.65,80.73 L407.00,80.75 L408.35,80.77 L409.70,80.80 L411.06,80.84 L412.41,80.89 L413.76,80.94 L415.11,81.01 L416.46,81.08 L417.81,81.16 L419.16,81.25 L420.51,81.35 L421.86,81.46 L423.21,81.58 L424.57,81.70 L425.92,81.84 L427.27,81.98 L428.62,82.13 L429.97,82.29 L431.32,82.45 L432.67,82.63 L434.02,82.81 L435.37,83.00 L436.73,83.20 L438.08,83.41 L439.43,83.62 L440.78,83.84 L442.13,84.08 L443.48,84.31 L444.83,84.56 L446.18,84.81 L447.53,85.07 L448.88,85.34 L450.24,85.62 L451.59,85.90 L452.94,86.19 L454.29,86.49 L455.64,86.79 L456.99,87.11 L458.34,87.42 L459.69,87.75 L461.04,88.08 L462.40,88.42 L463.75,88.77 L465.10,89.12 L466.45,89.48 L467.80,89.84 L469.15,90.21 L470.50,90.59 L471.85,90.98 L473.20,91.37 L474.56,91.76 L475.91,92.16 L477.26,92.57 L478.61,92.98 L479.96,93.40 L481.31,93.83 L482.66,94.26 L484.01,94.70 L485.36,95.14 L486.71,95.58 L488.07,96.04 L489.42,96.49 L490.77,96.96 L492.12,97.42 L493.47,97.90 L494.82,98.37 L496.17,98.86 L497.52,99.34 L498.87,99.83 L500.23,100.33 L501.58,100.83 L502.93,101.34 L504.28,101.85 L505.63,102.36 L506.98,102.88 L508.33,103.40 L509.68,103.93 L511.03,104.46 L512.38,104.99 L513.74,105.53 L515.09,106.08 L516.44,106.62 L517.79,107.17 L519.14,107.73 L520.49,108.29 L521.84,108.85 L523.19,109.41 L524.54,109.98 L525.90,110.56 L527.25,111.13 L528.60,111.71 L529.95,112.29 L531.30,112.88 L532.65,113.47 L534.00,114.06 L535.35,114.65 L536.70,115.25 L538.05,115.85 L539.41,116.46 L540.76,117.06 L542.11,117.67 L543.46,118.29 L544.81,118.90 L546.16,119.52 L547.51,120.14 L548.86,120.77 L550.21,121.39 L551.57,122.02 L552.92,122.65 L554.27,123.29 L555.62,123.92 L556.97,124.56 L558.32,125.20 L559.67,125.85 L561.02,126.49 L562.37,127.14 L563.72,127.79 L565.08,128.45 L566.43,129.10 L567.78,129.76 L569.13,130.42 L570.48,131.08 L571.83,131.74 L573.18,132.41 L574.53,133.07 L575.88,133.74 L577.24,134.42 L578.59,135.09 L579.94,135.76 L581.29,136.44 L582.64,137.12 L583.99,137.80 L585.34,138.48 L586.69,139.17 L588.04,139.85 L589.39,140.54 L590.75,141.23 L592.10,141.92 L593.45,142.61 L594.80,143.31 L596.15,144.00 L597.50,144.70 L598.85,145.40 L600.20,146.10 L601.55,146.80 L602.91,147.50 L604.26,148.21 L605.61,148.91 L606.96,149.62 L608.31,150.33 L609.66,151.04 L611.01,151.75 L612.36,152.46 L613.71,153.18 L615.07,153.89 L616.42,154.61 L617.77,155.33 L619.12,156.05 L620.47,156.77 L621.82,157.49 L623.17,158.21 L624.52,158.94 L625.87,159.66 L627.22,160.39 L628.58,161.12 L629.93,161.85 L631.28,162.58 L632.63,163.31 L633.98,164.04 L635.33,164.77 L636.68,165.50 L638.03,166.24 L639.38,166.98 L640.74,167.71 L642.09,168.45 L643.44,169.19 L644.79,169.93 L646.14,170.67 L647.49,171.41 L648.84,172.16 L650.19,172.90 L651.54,173.64 L652.89,174.39 L654.25,175.13 L655.60,175.88 L656.95,176.63 L658.30,177.38 L659.65,178.13 L661.00,178.88 L662.35,179.63 L663.70,180.38 L665.05,181.14 L666.41,181.89 L667.76,182.64 L669.11,183.40 L670.46,184.16 L671.81,184.91 L673.16,185.67 L674.51,186.43" fill="none" stroke="#3a0d12" stroke-width="1.9"/>
<rect x="404.30" y="35.60" width="279.70" height="209.40" fill="none" stroke="#3c3c3c" stroke-width="1"/>
<text x="404.30" y="260.30" text-anchor="middle" class="tk">0</text>
<line x1="471.45" y1="245.00" x2="471.45" y2="242.20" stroke="#3c3c3c" stroke-width="0.9"/>
<line x1="471.45" y1="35.60" x2="471.45" y2="38.40" stroke="#3c3c3c" stroke-width="0.9"/>
<text x="471.45" y="260.30" text-anchor="middle" class="tk">5</text>
<line x1="538.60" y1="245.00" x2="538.60" y2="242.20" stroke="#3c3c3c" stroke-width="0.9"/>
<line x1="538.60" y1="35.60" x2="538.60" y2="38.40" stroke="#3c3c3c" stroke-width="0.9"/>
<text x="538.60" y="260.30" text-anchor="middle" class="tk">10</text>
<line x1="605.75" y1="245.00" x2="605.75" y2="242.20" stroke="#3c3c3c" stroke-width="0.9"/>
<line x1="605.75" y1="35.60" x2="605.75" y2="38.40" stroke="#3c3c3c" stroke-width="0.9"/>
<text x="605.75" y="260.30" text-anchor="middle" class="tk">15</text>
<line x1="672.90" y1="245.00" x2="672.90" y2="242.20" stroke="#3c3c3c" stroke-width="0.9"/>
<line x1="672.90" y1="35.60" x2="672.90" y2="38.40" stroke="#3c3c3c" stroke-width="0.9"/>
<text x="672.90" y="260.30" text-anchor="middle" class="tk">20</text>
<line x1="404.30" y1="56.54" x2="407.10" y2="56.54" stroke="#3c3c3c" stroke-width="0.9"/>
<line x1="684.00" y1="56.54" x2="681.20" y2="56.54" stroke="#3c3c3c" stroke-width="0.9"/>
<text x="399.80" y="60.54" text-anchor="end" class="tk">10</text>
<line x1="404.30" y1="98.42" x2="407.10" y2="98.42" stroke="#3c3c3c" stroke-width="0.9"/>
<line x1="684.00" y1="98.42" x2="681.20" y2="98.42" stroke="#3c3c3c" stroke-width="0.9"/>
<text x="399.80" y="102.42" text-anchor="end" class="tk">0</text>
<line x1="404.30" y1="140.30" x2="407.10" y2="140.30" stroke="#3c3c3c" stroke-width="0.9"/>
<line x1="684.00" y1="140.30" x2="681.20" y2="140.30" stroke="#3c3c3c" stroke-width="0.9"/>
<text x="399.80" y="144.30" text-anchor="end" class="tk">−10</text>
<line x1="404.30" y1="182.18" x2="407.10" y2="182.18" stroke="#3c3c3c" stroke-width="0.9"/>
<line x1="684.00" y1="182.18" x2="681.20" y2="182.18" stroke="#3c3c3c" stroke-width="0.9"/>
<text x="399.80" y="186.18" text-anchor="end" class="tk">−20</text>
<line x1="404.30" y1="224.06" x2="407.10" y2="224.06" stroke="#3c3c3c" stroke-width="0.9"/>
<line x1="684.00" y1="224.06" x2="681.20" y2="224.06" stroke="#3c3c3c" stroke-width="0.9"/>
<text x="399.80" y="228.06" text-anchor="end" class="tk">−30</text>
<text x="492.27" y="28.60" text-anchor="middle" class="tk">0.56</text>
<text x="671.56" y="28.60" text-anchor="middle" class="tk">0.9</text>
<text transform="translate(370.00,140.30) rotate(-90)" text-anchor="middle" class="al">Phase (<tspan class="pi">π</tspan>)</text>
<text x="544.15" y="277.50" text-anchor="middle" class="al"><tspan class="bi">r</tspan> (µm)</text>
<text x="544.50" y="8.60" text-anchor="middle" class="na">NA</text>
<rect x="611.50" y="42.40" width="66.80" height="31.90" fill="#fff" stroke="#3c3c3c" stroke-width="0.9"/>
<line x1="614.00" y1="48.80" x2="639.00" y2="48.80" stroke="#e0503f" stroke-width="1.5"/>
<text x="641.40" y="51.90" font-size="8.9" fill="#262626">650 nm</text>
<line x1="614.00" y1="59.00" x2="639.00" y2="59.00" stroke="#3f77c4" stroke-width="1.5"/>
<text x="641.40" y="62.10" font-size="8.9" fill="#262626">800 nm</text>
<line x1="614.00" y1="69.00" x2="639.00" y2="69.00" stroke="#3a0d12" stroke-width="1.5"/>
<text x="641.40" y="72.10" font-size="8.9" fill="#262626">1000 nm</text>
<text x="494.5" y="96.5" class="rl" font-style="italic" font-weight="bold">r<tspan font-size="6.3" dy="2" font-style="normal" font-weight="normal">1</tspan></text>
<text x="360" y="15.3" class="pl">b</text>
<rect x="41.4" y="358.0" width="88.03" height="208.0" fill="#d9d9d9"/>
<line x1="129.43" y1="358.00" x2="129.43" y2="566.00" stroke="#2e2e2e" stroke-width="0.9" stroke-dasharray="3.2 2.3"/>
<line x1="165.44" y1="358.00" x2="165.44" y2="566.00" stroke="#2e2e2e" stroke-width="0.9" stroke-dasharray="3.2 2.3"/>
<line x1="202.12" y1="358.00" x2="202.12" y2="566.00" stroke="#2e2e2e" stroke-width="0.9" stroke-dasharray="3.2 2.3"/>
<line x1="238.80" y1="358.00" x2="238.80" y2="566.00" stroke="#2e2e2e" stroke-width="0.9" stroke-dasharray="3.2 2.3"/>
<line x1="274.15" y1="358.00" x2="274.15" y2="566.00" stroke="#2e2e2e" stroke-width="0.9" stroke-dasharray="3.2 2.3"/>
<line x1="309.50" y1="358.00" x2="309.50" y2="566.00" stroke="#2e2e2e" stroke-width="0.9" stroke-dasharray="3.2 2.3"/>
<path d="M41.40,409.85 L129.43,409.85 L129.43,431.64 L165.44,431.64 L165.44,457.61 L202.12,457.61 L202.12,486.07 L238.80,486.07 L238.80,515.10 L274.15,515.10 L274.15,545.20 L309.50,545.20" fill="none" stroke="#e0503f" stroke-width="1.7" stroke-dasharray="4.8 0.8 1.7 0.8"/>
<path d="M41.40,435.23 L129.43,435.23 L129.43,452.94 L165.44,452.94 L165.44,474.03 L202.12,474.03 L202.12,497.16 L238.80,497.16 L238.80,520.74 L274.15,520.74 L274.15,545.20 L309.50,545.20" fill="none" stroke="#3f77c4" stroke-width="1.7" stroke-dasharray="4.8 0.8 1.7 0.8"/>
<path d="M41.40,457.22 L129.43,457.22 L129.43,471.39 L165.44,471.39 L165.44,488.26 L202.12,488.26 L202.12,506.77 L238.80,506.77 L238.80,525.63 L274.15,525.63 L274.15,545.20 L309.50,545.20" fill="none" stroke="#3a0d12" stroke-width="1.7" stroke-dasharray="4.8 0.8 1.7 0.8"/>
<path d="M41.40,519.25 L44.33,519.28 L47.27,519.38 L50.20,519.54 L53.14,519.76 L56.07,520.04 L59.01,520.39 L61.94,520.80 L64.88,521.27 L67.81,521.80 L70.74,522.40 L73.68,523.05 L76.61,523.75 L79.55,524.52 L82.48,525.34 L85.42,526.22 L88.35,527.15 L91.28,528.13 L94.22,529.17 L97.15,530.26 L100.09,531.39 L103.02,532.58 L105.96,533.81 L108.89,535.09 L111.83,536.41 L114.76,537.77 L117.69,539.18 L120.63,540.63 L123.56,542.11 L126.50,543.64 L129.43,545.20 L129.43,523.41 L130.63,524.06 L131.83,524.71 L133.03,525.38 L134.23,526.04 L135.43,526.72 L136.63,527.39 L137.83,528.08 L139.03,528.77 L140.24,529.46 L141.44,530.17 L142.64,530.87 L143.84,531.58 L145.04,532.30 L146.24,533.02 L147.44,533.75 L148.64,534.48 L149.84,535.21 L151.04,535.95 L152.24,536.70 L153.44,537.45 L154.64,538.21 L155.84,538.97 L157.04,539.73 L158.24,540.50 L159.44,541.27 L160.64,542.05 L161.84,542.83 L163.04,543.62 L164.24,544.41 L165.44,545.20 L165.44,519.24 L166.67,520.05 L167.89,520.87 L169.11,521.69 L170.33,522.51 L171.56,523.34 L172.78,524.18 L174.00,525.01 L175.23,525.85 L176.45,526.70 L177.67,527.55 L178.89,528.40 L180.12,529.25 L181.34,530.11 L182.56,530.97 L183.78,531.84 L185.01,532.71 L186.23,533.58 L187.45,534.45 L188.67,535.33 L189.90,536.21 L191.12,537.10 L192.34,537.99 L193.57,538.88 L194.79,539.77 L196.01,540.67 L197.23,541.57 L198.46,542.47 L199.68,543.38 L200.90,544.29 L202.12,545.20 L202.12,516.73 L203.35,517.65 L204.57,518.56 L205.79,519.48 L207.01,520.41 L208.24,521.33 L209.46,522.26 L210.68,523.19 L211.91,524.12 L213.13,525.05 L214.35,525.99 L215.57,526.93 L216.80,527.87 L218.02,528.82 L219.24,529.76 L220.46,530.71 L221.69,531.67 L222.91,532.62 L224.13,533.57 L225.35,534.53 L226.58,535.49 L227.80,536.45 L229.02,537.42 L230.25,538.38 L231.47,539.35 L232.69,540.32 L233.91,541.29 L235.14,542.27 L236.36,543.24 L237.58,544.22 L238.80,545.20 L238.80,516.18 L239.98,517.12 L241.16,518.07 L242.34,519.02 L243.52,519.97 L244.69,520.92 L245.87,521.88 L247.05,522.83 L248.23,523.79 L249.41,524.75 L250.59,525.71 L251.76,526.67 L252.94,527.63 L254.12,528.60 L255.30,529.56 L256.48,530.53 L257.65,531.50 L258.83,532.47 L260.01,533.44 L261.19,534.41 L262.37,535.39 L263.55,536.36 L264.72,537.34 L265.90,538.32 L267.08,539.30 L268.26,540.28 L269.44,541.26 L270.62,542.24 L271.79,543.23 L272.97,544.21 L274.15,545.20 L274.15,515.10 L275.33,516.08 L276.51,517.07 L277.68,518.06 L278.86,519.06 L280.04,520.05 L281.22,521.04 L282.40,522.04 L283.58,523.03 L284.75,524.03 L285.93,525.03 L287.11,526.03 L288.29,527.03 L289.47,528.03 L290.64,529.03 L291.82,530.04 L293.00,531.04 L294.18,532.05 L295.36,533.05 L296.54,534.06 L297.71,535.07 L298.89,536.08 L300.07,537.09 L301.25,538.10 L302.43,539.11 L303.60,540.12 L304.78,541.14 L305.96,542.15 L307.14,543.17 L308.32,544.18 L309.50,545.20" fill="none" stroke="#e0503f" stroke-width="1.9" stroke-linejoin="miter"/>
<path d="M41.40,524.12 L44.33,524.14 L47.27,524.22 L50.20,524.35 L53.14,524.53 L56.07,524.76 L59.01,525.04 L61.94,525.38 L64.88,525.76 L67.81,526.19 L70.74,526.67 L73.68,527.20 L76.61,527.78 L79.55,528.40 L82.48,529.07 L85.42,529.78 L88.35,530.53 L91.28,531.33 L94.22,532.18 L97.15,533.06 L100.09,533.98 L103.02,534.94 L105.96,535.94 L108.89,536.98 L111.83,538.06 L114.76,539.16 L117.69,540.31 L120.63,541.48 L123.56,542.69 L126.50,543.93 L129.43,545.20 L129.43,527.49 L130.63,528.02 L131.83,528.56 L133.03,529.09 L134.23,529.64 L135.43,530.18 L136.63,530.73 L137.83,531.29 L139.03,531.85 L140.24,532.41 L141.44,532.98 L142.64,533.56 L143.84,534.14 L145.04,534.72 L146.24,535.30 L147.44,535.89 L148.64,536.49 L149.84,537.09 L151.04,537.69 L152.24,538.29 L153.44,538.90 L154.64,539.52 L155.84,540.13 L157.04,540.76 L158.24,541.38 L159.44,542.01 L160.64,542.64 L161.84,543.27 L163.04,543.91 L164.24,544.55 L165.44,545.20 L165.44,524.11 L166.67,524.77 L167.89,525.43 L169.11,526.10 L170.33,526.77 L171.56,527.44 L172.78,528.12 L174.00,528.80 L175.23,529.48 L176.45,530.17 L177.67,530.86 L178.89,531.55 L180.12,532.24 L181.34,532.94 L182.56,533.64 L183.78,534.34 L185.01,535.05 L186.23,535.76 L187.45,536.47 L188.67,537.18 L189.90,537.90 L191.12,538.62 L192.34,539.34 L193.57,540.06 L194.79,540.79 L196.01,541.52 L197.23,542.25 L198.46,542.99 L199.68,543.72 L200.90,544.46 L202.12,545.20 L202.12,522.07 L203.35,522.81 L204.57,523.56 L205.79,524.31 L207.01,525.05 L208.24,525.81 L209.46,526.56 L210.68,527.31 L211.91,528.07 L213.13,528.83 L214.35,529.59 L215.57,530.36 L216.80,531.12 L218.02,531.89 L219.24,532.66 L220.46,533.43 L221.69,534.20 L222.91,534.98 L224.13,535.75 L225.35,536.53 L226.58,537.31 L227.80,538.09 L229.02,538.88 L230.25,539.66 L231.47,540.45 L232.69,541.24 L233.91,542.03 L235.14,542.82 L236.36,543.61 L237.58,544.40 L238.80,545.20 L238.80,521.62 L239.98,522.39 L241.16,523.16 L242.34,523.93 L243.52,524.70 L244.69,525.47 L245.87,526.25 L247.05,527.03 L248.23,527.80 L249.41,528.58 L250.59,529.36 L251.76,530.14 L252.94,530.93 L254.12,531.71 L255.30,532.49 L256.48,533.28 L257.65,534.07 L258.83,534.85 L260.01,535.64 L261.19,536.43 L262.37,537.23 L263.55,538.02 L264.72,538.81 L265.90,539.61 L267.08,540.40 L268.26,541.20 L269.44,542.00 L270.62,542.80 L271.79,543.60 L272.97,544.40 L274.15,545.20 L274.15,520.74 L275.33,521.54 L276.51,522.35 L277.68,523.15 L278.86,523.96 L280.04,524.76 L281.22,525.57 L282.40,526.38 L283.58,527.19 L284.75,528.00 L285.93,528.81 L287.11,529.62 L288.29,530.44 L289.47,531.25 L290.64,532.06 L291.82,532.88 L293.00,533.69 L294.18,534.51 L295.36,535.33 L296.54,536.15 L297.71,536.97 L298.89,537.79 L300.07,538.61 L301.25,539.43 L302.43,540.25 L303.60,541.07 L304.78,541.90 L305.96,542.72 L307.14,543.55 L308.32,544.37 L309.50,545.20" fill="none" stroke="#3f77c4" stroke-width="1.9" stroke-linejoin="miter"/>
<path d="M41.40,528.33 L44.33,528.35 L47.27,528.42 L50.20,528.52 L53.14,528.66 L56.07,528.85 L59.01,529.07 L61.94,529.34 L64.88,529.65 L67.81,529.99 L70.74,530.38 L73.68,530.80 L76.61,531.26 L79.55,531.76 L82.48,532.29 L85.42,532.86 L88.35,533.47 L91.28,534.11 L94.22,534.78 L97.15,535.49 L100.09,536.23 L103.02,537.00 L105.96,537.80 L108.89,538.63 L111.83,539.48 L114.76,540.37 L117.69,541.29 L120.63,542.23 L123.56,543.19 L126.50,544.18 L129.43,545.20 L129.43,531.04 L130.63,531.46 L131.83,531.88 L133.03,532.31 L134.23,532.75 L135.43,533.19 L136.63,533.63 L137.83,534.07 L139.03,534.52 L140.24,534.97 L141.44,535.43 L142.64,535.89 L143.84,536.35 L145.04,536.81 L146.24,537.28 L147.44,537.76 L148.64,538.23 L149.84,538.71 L151.04,539.19 L152.24,539.68 L153.44,540.16 L154.64,540.65 L155.84,541.15 L157.04,541.64 L158.24,542.14 L159.44,542.65 L160.64,543.15 L161.84,543.66 L163.04,544.17 L164.24,544.68 L165.44,545.20 L165.44,528.33 L166.67,528.85 L167.89,529.38 L169.11,529.92 L170.33,530.45 L171.56,530.99 L172.78,531.53 L174.00,532.08 L175.23,532.62 L176.45,533.17 L177.67,533.72 L178.89,534.28 L180.12,534.83 L181.34,535.39 L182.56,535.95 L183.78,536.51 L185.01,537.08 L186.23,537.65 L187.45,538.22 L188.67,538.79 L189.90,539.36 L191.12,539.93 L192.34,540.51 L193.57,541.09 L194.79,541.67 L196.01,542.26 L197.23,542.84 L198.46,543.43 L199.68,544.02 L200.90,544.61 L202.12,545.20 L202.12,526.70 L203.35,527.29 L204.57,527.89 L205.79,528.48 L207.01,529.08 L208.24,529.68 L209.46,530.29 L210.68,530.89 L211.91,531.50 L213.13,532.11 L214.35,532.71 L215.57,533.33 L216.80,533.94 L218.02,534.55 L219.24,535.17 L220.46,535.78 L221.69,536.40 L222.91,537.02 L224.13,537.64 L225.35,538.27 L226.58,538.89 L227.80,539.51 L229.02,540.14 L230.25,540.77 L231.47,541.40 L232.69,542.03 L233.91,542.66 L235.14,543.29 L236.36,543.93 L237.58,544.56 L238.80,545.20 L238.80,526.33 L239.98,526.95 L241.16,527.57 L242.34,528.18 L243.52,528.80 L244.69,529.42 L245.87,530.04 L247.05,530.66 L248.23,531.28 L249.41,531.91 L250.59,532.53 L251.76,533.15 L252.94,533.78 L254.12,534.41 L255.30,535.03 L256.48,535.66 L257.65,536.29 L258.83,536.92 L260.01,537.56 L261.19,538.19 L262.37,538.82 L263.55,539.46 L264.72,540.09 L265.90,540.73 L267.08,541.36 L268.26,542.00 L269.44,542.64 L270.62,543.28 L271.79,543.92 L272.97,544.56 L274.15,545.20 L274.15,525.63 L275.33,526.28 L276.51,526.92 L277.68,527.56 L278.86,528.21 L280.04,528.85 L281.22,529.50 L282.40,530.14 L283.58,530.79 L284.75,531.44 L285.93,532.09 L287.11,532.74 L288.29,533.39 L289.47,534.04 L290.64,534.69 L291.82,535.34 L293.00,536.00 L294.18,536.65 L295.36,537.30 L296.54,537.96 L297.71,538.61 L298.89,539.27 L300.07,539.93 L301.25,540.58 L302.43,541.24 L303.60,541.90 L304.78,542.56 L305.96,543.22 L307.14,543.88 L308.32,544.54 L309.50,545.20" fill="none" stroke="#3a0d12" stroke-width="1.9" stroke-linejoin="miter"/>
<rect x="41.40" y="358.00" width="280.10" height="208.00" fill="none" stroke="#3c3c3c" stroke-width="1"/>
<text x="41.40" y="580.80" text-anchor="middle" class="tk">0</text>
<line x1="108.09" y1="566.00" x2="108.09" y2="563.20" stroke="#3c3c3c" stroke-width="0.9"/>
<line x1="108.09" y1="358.00" x2="108.09" y2="360.80" stroke="#3c3c3c" stroke-width="0.9"/>
<text x="108.09" y="580.80" text-anchor="middle" class="tk">5</text>
<line x1="174.78" y1="566.00" x2="174.78" y2="563.20" stroke="#3c3c3c" stroke-width="0.9"/>
<line x1="174.78" y1="358.00" x2="174.78" y2="360.80" stroke="#3c3c3c" stroke-width="0.9"/>
<text x="174.78" y="580.80" text-anchor="middle" class="tk">10</text>
<line x1="241.47" y1="566.00" x2="241.47" y2="563.20" stroke="#3c3c3c" stroke-width="0.9"/>
<line x1="241.47" y1="358.00" x2="241.47" y2="360.80" stroke="#3c3c3c" stroke-width="0.9"/>
<text x="241.47" y="580.80" text-anchor="middle" class="tk">15</text>
<line x1="308.16" y1="566.00" x2="308.16" y2="563.20" stroke="#3c3c3c" stroke-width="0.9"/>
<line x1="308.16" y1="358.00" x2="308.16" y2="360.80" stroke="#3c3c3c" stroke-width="0.9"/>
<text x="308.16" y="580.80" text-anchor="middle" class="tk">20</text>
<line x1="41.40" y1="378.80" x2="44.20" y2="378.80" stroke="#3c3c3c" stroke-width="0.9"/>
<line x1="321.50" y1="378.80" x2="318.70" y2="378.80" stroke="#3c3c3c" stroke-width="0.9"/>
<text x="35.20" y="382.80" text-anchor="end" class="tk">40</text>
<line x1="41.40" y1="420.40" x2="44.20" y2="420.40" stroke="#3c3c3c" stroke-width="0.9"/>
<line x1="321.50" y1="420.40" x2="318.70" y2="420.40" stroke="#3c3c3c" stroke-width="0.9"/>
<text x="35.20" y="424.40" text-anchor="end" class="tk">30</text>
<line x1="41.40" y1="462.00" x2="44.20" y2="462.00" stroke="#3c3c3c" stroke-width="0.9"/>
<line x1="321.50" y1="462.00" x2="318.70" y2="462.00" stroke="#3c3c3c" stroke-width="0.9"/>
<text x="35.20" y="466.00" text-anchor="end" class="tk">20</text>
<line x1="41.40" y1="503.60" x2="44.20" y2="503.60" stroke="#3c3c3c" stroke-width="0.9"/>
<line x1="321.50" y1="503.60" x2="318.70" y2="503.60" stroke="#3c3c3c" stroke-width="0.9"/>
<text x="35.20" y="507.60" text-anchor="end" class="tk">10</text>
<line x1="41.40" y1="545.20" x2="44.20" y2="545.20" stroke="#3c3c3c" stroke-width="0.9"/>
<line x1="321.50" y1="545.20" x2="318.70" y2="545.20" stroke="#3c3c3c" stroke-width="0.9"/>
<text x="35.20" y="549.20" text-anchor="end" class="tk">0</text>
<text x="129.43" y="351.30" text-anchor="middle" class="tk">0.56</text>
<text x="307.50" y="351.30" text-anchor="middle" class="tk">0.9</text>
<text transform="translate(10.50,462.00) rotate(-90)" text-anchor="middle" class="al">Phase (<tspan class="pi">π</tspan>)</text>
<text x="181.45" y="598.20" text-anchor="middle" class="al"><tspan class="bi">r</tspan> (µm)</text>
<text x="181.20" y="334.20" text-anchor="middle" class="na">NA</text>
<rect x="241.50" y="364.60" width="75.10" height="32.40" fill="#fff" stroke="#3c3c3c" stroke-width="0.9"/>
<line x1="244.00" y1="372.00" x2="269.70" y2="372.00" stroke="#e0503f" stroke-width="1.5"/>
<text x="276.00" y="375.10" font-size="10.2" fill="#262626">650 nm</text>
<line x1="244.00" y1="382.00" x2="269.70" y2="382.00" stroke="#3f77c4" stroke-width="1.5"/>
<text x="276.00" y="385.10" font-size="10.2" fill="#262626">800 nm</text>
<line x1="244.00" y1="392.40" x2="269.70" y2="392.40" stroke="#3a0d12" stroke-width="1.5"/>
<text x="276.00" y="395.50" font-size="10.2" fill="#262626">1000 nm</text>
<text x="117.50" y="399.50" class="rl" font-style="italic">r<tspan font-size="6.3" dy="2.3" font-style="normal">1</tspan></text>
<text x="154.00" y="423.00" class="rl" font-style="italic">r<tspan font-size="6.3" dy="2.3" font-style="normal">2</tspan></text>
<text x="190.50" y="449.00" class="rl" font-style="italic">r<tspan font-size="6.3" dy="2.3" font-style="normal">3</tspan></text>
<text x="226.50" y="476.00" class="rl" font-style="italic">r<tspan font-size="6.3" dy="2.3" font-style="normal">4</tspan></text>
<text x="263.00" y="505.50" class="rl" font-style="italic">r<tspan font-size="6.3" dy="2.3" font-style="normal">5</tspan></text>
<text x="298.50" y="526.50" class="rl" font-style="italic">r<tspan font-size="6.3" dy="2.3" font-style="normal">6</tspan></text>
<text x="300" y="557" class="rl" font-style="italic">R</text>
<text x="-0.5" y="329.8" class="pl">c</text>
<rect x="401.6" y="356.3" width="88.66" height="209.7" fill="#d9d9d9"/>
<line x1="490.26" y1="356.30" x2="490.26" y2="566.00" stroke="#2e2e2e" stroke-width="0.9" stroke-dasharray="3.2 2.3"/>
<line x1="526.53" y1="356.30" x2="526.53" y2="566.00" stroke="#2e2e2e" stroke-width="0.9" stroke-dasharray="3.2 2.3"/>
<line x1="563.47" y1="356.30" x2="563.47" y2="566.00" stroke="#2e2e2e" stroke-width="0.9" stroke-dasharray="3.2 2.3"/>
<line x1="600.41" y1="356.30" x2="600.41" y2="566.00" stroke="#8a8a8a" stroke-width="0.9" stroke-dasharray="3.2 2.3"/>
<line x1="636.01" y1="356.30" x2="636.01" y2="566.00" stroke="#2e2e2e" stroke-width="0.9" stroke-dasharray="3.2 2.3"/>
<line x1="671.61" y1="356.30" x2="671.61" y2="566.00" stroke="#2e2e2e" stroke-width="0.9" stroke-dasharray="3.2 2.3"/>
<rect x="407" y="493.1" width="123.4" height="18.2" fill="#aacfa6"/>
<rect x="407" y="511.1" width="123.4" height="24" fill="#7b9bcc"/>
<path d="M407,552.7 L407,534.4 L424.5,534.4 L424.5,529.8 L435,529.8 L435,524.6 L444,524.6 L444,520 L453.7,520 L453.7,515.7 L483,515.7 L483,520 L492.3,520 L492.3,524.6 L501.6,524.6 L501.6,529.8 L511.7,529.8 L511.7,534.4 L530.4,534.4 L530.4,552.7 Z" fill="#a8a4a6"/>
<rect x="427.6" y="502.9" width="7.9" height="8.4" fill="#c9601f"/>
<rect x="441.6" y="502.9" width="5.1" height="8.4" fill="#c9601f"/>
<rect x="453.7" y="502.9" width="6.1" height="8.4" fill="#c9601f"/>
<rect x="465" y="502.9" width="6.5" height="8.4" fill="#c9601f"/>
<rect x="478" y="502.9" width="5.2" height="8.4" fill="#c9601f"/>
<rect x="488.3" y="502.9" width="5.7" height="8.4" fill="#c9601f"/>
<rect x="499.3" y="502.9" width="7.7" height="8.4" fill="#c9601f"/>
<line x1="466.6" y1="472" x2="432" y2="501.5" stroke="#7a3b96" stroke-width="1.8"/>
<line x1="466.6" y1="472" x2="454.2" y2="501.5" stroke="#7a3b96" stroke-width="1.8"/>
<line x1="466.6" y1="472" x2="481" y2="501.5" stroke="#7a3b96" stroke-width="1.8"/>
<line x1="466.6" y1="472" x2="505.5" y2="501.5" stroke="#7a3b96" stroke-width="1.8"/>
<path d="M462.6,473.4 L466.6,471.4 L470.6,473.4" fill="none" stroke="#7a3b96" stroke-width="1.8"/>
<ellipse cx="466.6" cy="466.7" rx="7.3500000000000005" ry="9.920000000000002" fill="url(#pg)"/>
<ellipse cx="466.6" cy="466.7" rx="3.5" ry="6.2" fill="#7d3f98"/>
<ellipse cx="466.6" cy="466.2" rx="1.75" ry="3.7199999999999998" fill="#9560ad"/>
<line x1="434.3" y1="562" x2="434.3" y2="544.4" stroke="#7a3b96" stroke-width="1.7"/>
<path d="M431.6,546.6 L434.3,541.4 L437.0,546.6 Z" fill="#7a3b96"/>
<line x1="456.5" y1="562" x2="456.5" y2="544.4" stroke="#7a3b96" stroke-width="1.7"/>
<path d="M453.8,546.6 L456.5,541.4 L459.2,546.6 Z" fill="#7a3b96"/>
<line x1="479.4" y1="562" x2="479.4" y2="544.4" stroke="#7a3b96" stroke-width="1.7"/>
<path d="M476.7,546.6 L479.4,541.4 L482.09999999999997,546.6 Z" fill="#7a3b96"/>
<line x1="501" y1="562" x2="501" y2="544.4" stroke="#7a3b96" stroke-width="1.7"/>
<path d="M498.3,546.6 L501,541.4 L503.7,546.6 Z" fill="#7a3b96"/>
<line x1="467.8" y1="553.1" x2="523" y2="553.1" stroke="#e8202e" stroke-width="1.5"/>
<path d="M521,550.5 L526.8,553.1 L521,555.7 Z" fill="#e8202e"/>
<text x="467" y="550" font-size="10.5" font-weight="bold" fill="#e8202e">0</text>
<text x="522.5" y="549" font-size="10" font-weight="bold" font-style="italic" fill="#e8202e">r</text>
<text x="418.5" y="526" font-size="10" font-style="italic" font-weight="bold" fill="#1a1a1a">n<tspan font-size="6.5" dy="2" font-style="normal">1</tspan></text>
<text x="418.5" y="547" font-size="10" font-style="italic" font-weight="bold" fill="#1a1a1a">n<tspan font-size="6.5" dy="2" font-style="normal">2</tspan></text>
<text x="507.3" y="526" font-size="10" font-style="italic" font-weight="bold" fill="#1a1a1a">l<tspan font-size="6.5" dy="2" font-style="normal">1</tspan></text>
<text x="506.3" y="546" font-size="10" font-style="italic" font-weight="bold" fill="#1a1a1a">l<tspan font-size="6.5" dy="2" font-style="normal">2</tspan></text>
<line x1="516.1" y1="515.2" x2="516.1" y2="530.5" stroke="#111" stroke-width="1.3"/>
<path d="M513.7,516.7 L516.1,512.2 L518.5,516.7 Z" fill="#111"/>
<path d="M513.7,529.0 L516.1,533.5 L518.5,529.0 Z" fill="#111"/>
<line x1="516.1" y1="538.2" x2="516.1" y2="549.2" stroke="#111" stroke-width="1.3"/>
<path d="M513.7,539.7 L516.1,535.2 L518.5,539.7 Z" fill="#111"/>
<path d="M513.7,547.7 L516.1,552.2 L518.5,547.7 Z" fill="#111"/>
<rect x="533.9" y="493.1" width="11" height="6.4" fill="#a8a4a6"/>
<text x="550.8" y="499.8" font-size="9.7" fill="#4a4a4a">GaN</text>
<rect x="533.9" y="512.2" width="11" height="6.4" fill="#7b9bcc"/>
<text x="550.8" y="519.9" font-size="9.7" fill="#4a4a4a">SiO2</text>
<rect x="533.9" y="531.6" width="11" height="6.4" fill="#aacfa6"/>
<text x="550.8" y="538.8" font-size="9.7" fill="#4a4a4a">HSQ</text>
<rect x="533.9" y="549.2" width="11" height="6.4" fill="#c9601f"/>
<text x="550.8" y="555.6" font-size="9.7" fill="#4a4a4a">c-Si</text>
<path d="M401.60,382.42 L402.95,382.42 L404.30,382.44 L405.65,382.48 L407.00,382.52 L408.35,382.58 L409.70,382.66 L411.05,382.74 L412.40,382.84 L413.75,382.96 L415.10,383.08 L416.45,383.22 L417.80,383.38 L419.15,383.54 L420.50,383.72 L421.85,383.91 L423.20,384.12 L424.55,384.34 L425.90,384.57 L427.25,384.81 L428.60,385.07 L429.95,385.34 L431.30,385.62 L432.65,385.91 L434.00,386.22 L435.35,386.53 L436.70,386.87 L438.05,387.21 L439.40,387.56 L440.75,387.93 L442.10,388.31 L443.45,388.70 L444.80,389.10 L446.15,389.51 L447.50,389.93 L448.85,390.37 L450.20,390.82 L451.55,391.27 L452.90,391.74 L454.25,392.22 L455.60,392.71 L456.95,393.21 L458.30,393.72 L459.65,394.24 L461.00,394.78 L462.35,395.32 L463.70,395.87 L465.05,396.43 L466.40,397.00 L467.75,397.58 L469.10,398.17 L470.45,398.77 L471.80,399.38 L473.15,400.00 L474.50,400.63 L475.85,401.26 L477.20,401.91 L478.55,402.56 L479.90,403.22 L481.25,403.89 L482.60,404.57 L483.95,405.26 L485.30,405.96 L486.65,406.66 L488.00,407.37 L489.35,408.09 L490.70,408.82 L492.05,409.55 L493.40,410.29 L494.75,411.04 L496.10,411.80 L497.45,412.56 L498.80,413.33 L500.15,414.11 L501.50,414.89 L502.85,415.68 L504.20,416.48 L505.55,417.29 L506.90,418.10 L508.25,418.91 L509.60,419.74 L510.95,420.57 L512.30,421.40 L513.65,422.24 L515.00,423.09 L516.35,423.94 L517.70,424.80 L519.05,425.66 L520.40,426.53 L521.75,427.41 L523.10,428.29 L524.45,429.17 L525.80,430.07 L527.15,430.96 L528.50,431.86 L529.85,432.77 L531.20,433.68 L532.55,434.59 L533.90,435.51 L535.25,436.44 L536.61,437.37 L537.96,438.30 L539.31,439.24 L540.66,440.18 L542.01,441.13 L543.36,442.08 L544.71,443.04 L546.06,444.00 L547.41,444.96 L548.76,445.93 L550.11,446.90 L551.46,447.88 L552.81,448.86 L554.16,449.84 L555.51,450.83 L556.86,451.82 L558.21,452.81 L559.56,453.81 L560.91,454.81 L562.26,455.81 L563.61,456.82 L564.96,457.83 L566.31,458.85 L567.66,459.86 L569.01,460.88 L570.36,461.91 L571.71,462.93 L573.06,463.96 L574.41,465.00 L575.76,466.03 L577.11,467.07 L578.46,468.11 L579.81,469.16 L581.16,470.20 L582.51,471.25 L583.86,472.31 L585.21,473.36 L586.56,474.42 L587.91,475.48 L589.26,476.54 L590.61,477.61 L591.96,478.68 L593.31,479.75 L594.66,480.82 L596.01,481.90 L597.36,482.97 L598.71,484.05 L600.06,485.13 L601.41,486.22 L602.76,487.31 L604.11,488.39 L605.46,489.48 L606.81,490.58 L608.16,491.67 L609.51,492.77 L610.86,493.87 L612.21,494.97 L613.56,496.07 L614.91,497.18 L616.26,498.28 L617.61,499.39 L618.96,500.50 L620.31,501.62 L621.66,502.73 L623.01,503.85 L624.36,504.96 L625.71,506.08 L627.06,507.20 L628.41,508.33 L629.76,509.45 L631.11,510.58 L632.46,511.70 L633.81,512.83 L635.16,513.97 L636.51,515.10 L637.86,516.23 L639.21,517.37 L640.56,518.50 L641.91,519.64 L643.26,520.78 L644.61,521.92 L645.96,523.07 L647.31,524.21 L648.66,525.36 L650.01,526.50 L651.36,527.65 L652.71,528.80 L654.06,529.95 L655.41,531.11 L656.76,532.26 L658.11,533.41 L659.46,534.57 L660.81,535.73 L662.16,536.89 L663.51,538.05 L664.86,539.21 L666.21,540.37 L667.56,541.53 L668.91,542.70 L670.26,543.86 L671.61,545.03" fill="none" stroke="#e0503f" stroke-width="1.9"/>
<path d="M401.60,412.91 L402.95,412.91 L404.30,412.93 L405.65,412.96 L407.00,412.99 L408.35,413.04 L409.70,413.10 L411.05,413.17 L412.40,413.25 L413.75,413.35 L415.10,413.45 L416.45,413.56 L417.80,413.69 L419.15,413.82 L420.50,413.97 L421.85,414.12 L423.20,414.29 L424.55,414.47 L425.90,414.65 L427.25,414.85 L428.60,415.06 L429.95,415.28 L431.30,415.51 L432.65,415.75 L434.00,415.99 L435.35,416.25 L436.70,416.52 L438.05,416.80 L439.40,417.09 L440.75,417.38 L442.10,417.69 L443.45,418.01 L444.80,418.33 L446.15,418.67 L447.50,419.01 L448.85,419.37 L450.20,419.73 L451.55,420.10 L452.90,420.48 L454.25,420.87 L455.60,421.27 L456.95,421.68 L458.30,422.09 L459.65,422.52 L461.00,422.95 L462.35,423.39 L463.70,423.84 L465.05,424.29 L466.40,424.76 L467.75,425.23 L469.10,425.71 L470.45,426.20 L471.80,426.69 L473.15,427.19 L474.50,427.70 L475.85,428.22 L477.20,428.74 L478.55,429.27 L479.90,429.81 L481.25,430.36 L482.60,430.91 L483.95,431.47 L485.30,432.03 L486.65,432.60 L488.00,433.18 L489.35,433.77 L490.70,434.36 L492.05,434.95 L493.40,435.56 L494.75,436.16 L496.10,436.78 L497.45,437.40 L498.80,438.03 L500.15,438.66 L501.50,439.29 L502.85,439.94 L504.20,440.58 L505.55,441.24 L506.90,441.90 L508.25,442.56 L509.60,443.23 L510.95,443.90 L512.30,444.58 L513.65,445.26 L515.00,445.95 L516.35,446.65 L517.70,447.34 L519.05,448.05 L520.40,448.75 L521.75,449.46 L523.10,450.18 L524.45,450.90 L525.80,451.62 L527.15,452.35 L528.50,453.08 L529.85,453.82 L531.20,454.56 L532.55,455.30 L533.90,456.05 L535.25,456.80 L536.61,457.56 L537.96,458.31 L539.31,459.08 L540.66,459.84 L542.01,460.61 L543.36,461.39 L544.71,462.16 L546.06,462.94 L547.41,463.72 L548.76,464.51 L550.11,465.30 L551.46,466.09 L552.81,466.89 L554.16,467.69 L555.51,468.49 L556.86,469.29 L558.21,470.10 L559.56,470.91 L560.91,471.72 L562.26,472.54 L563.61,473.36 L564.96,474.18 L566.31,475.01 L567.66,475.83 L569.01,476.66 L570.36,477.49 L571.71,478.33 L573.06,479.16 L574.41,480.00 L575.76,480.84 L577.11,481.69 L578.46,482.54 L579.81,483.38 L581.16,484.23 L582.51,485.09 L583.86,485.94 L585.21,486.80 L586.56,487.66 L587.91,488.52 L589.26,489.38 L590.61,490.25 L591.96,491.12 L593.31,491.99 L594.66,492.86 L596.01,493.73 L597.36,494.61 L598.71,495.49 L600.06,496.36 L601.41,497.25 L602.76,498.13 L604.11,499.01 L605.46,499.90 L606.81,500.79 L608.16,501.68 L609.51,502.57 L610.86,503.46 L612.21,504.36 L613.56,505.25 L614.91,506.15 L616.26,507.05 L617.61,507.95 L618.96,508.85 L620.31,509.76 L621.66,510.66 L623.01,511.57 L624.36,512.48 L625.71,513.39 L627.06,514.30 L628.41,515.21 L629.76,516.12 L631.11,517.04 L632.46,517.95 L633.81,518.87 L635.16,519.79 L636.51,520.71 L637.86,521.63 L639.21,522.55 L640.56,523.48 L641.91,524.40 L643.26,525.33 L644.61,526.26 L645.96,527.19 L647.31,528.12 L648.66,529.05 L650.01,529.98 L651.36,530.91 L652.71,531.85 L654.06,532.78 L655.41,533.72 L656.76,534.65 L658.11,535.59 L659.46,536.53 L660.81,537.47 L662.16,538.41 L663.51,539.36 L664.86,540.30 L666.21,541.24 L667.56,542.19 L668.91,543.13 L670.26,544.08 L671.61,545.03" fill="none" stroke="#3f77c4" stroke-width="1.9"/>
<path d="M401.60,439.33 L402.95,439.34 L404.30,439.35 L405.65,439.37 L407.00,439.40 L408.35,439.44 L409.70,439.49 L411.05,439.54 L412.40,439.61 L413.75,439.68 L415.10,439.77 L416.45,439.86 L417.80,439.96 L419.15,440.06 L420.50,440.18 L421.85,440.30 L423.20,440.44 L424.55,440.58 L425.90,440.73 L427.25,440.89 L428.60,441.05 L429.95,441.23 L431.30,441.41 L432.65,441.60 L434.00,441.80 L435.35,442.01 L436.70,442.22 L438.05,442.45 L439.40,442.68 L440.75,442.91 L442.10,443.16 L443.45,443.41 L444.80,443.67 L446.15,443.94 L447.50,444.22 L448.85,444.50 L450.20,444.79 L451.55,445.09 L452.90,445.39 L454.25,445.70 L455.60,446.02 L456.95,446.35 L458.30,446.68 L459.65,447.02 L461.00,447.36 L462.35,447.72 L463.70,448.07 L465.05,448.44 L466.40,448.81 L467.75,449.19 L469.10,449.57 L470.45,449.96 L471.80,450.36 L473.15,450.76 L474.50,451.17 L475.85,451.58 L477.20,452.00 L478.55,452.43 L479.90,452.86 L481.25,453.29 L482.60,453.73 L483.95,454.18 L485.30,454.63 L486.65,455.09 L488.00,455.55 L489.35,456.02 L490.70,456.49 L492.05,456.97 L493.40,457.45 L494.75,457.94 L496.10,458.43 L497.45,458.93 L498.80,459.43 L500.15,459.93 L501.50,460.44 L502.85,460.96 L504.20,461.47 L505.55,462.00 L506.90,462.52 L508.25,463.05 L509.60,463.59 L510.95,464.13 L512.30,464.67 L513.65,465.22 L515.00,465.77 L516.35,466.32 L517.70,466.88 L519.05,467.44 L520.40,468.01 L521.75,468.58 L523.10,469.15 L524.45,469.72 L525.80,470.30 L527.15,470.89 L528.50,471.47 L529.85,472.06 L531.20,472.65 L532.55,473.25 L533.90,473.85 L535.25,474.45 L536.61,475.05 L537.96,475.66 L539.31,476.27 L540.66,476.88 L542.01,477.50 L543.36,478.11 L544.71,478.74 L546.06,479.36 L547.41,479.99 L548.76,480.61 L550.11,481.25 L551.46,481.88 L552.81,482.52 L554.16,483.16 L555.51,483.80 L556.86,484.44 L558.21,485.09 L559.56,485.74 L560.91,486.39 L562.26,487.04 L563.61,487.69 L564.96,488.35 L566.31,489.01 L567.66,489.67 L569.01,490.33 L570.36,491.00 L571.71,491.67 L573.06,492.34 L574.41,493.01 L575.76,493.68 L577.11,494.36 L578.46,495.03 L579.81,495.71 L581.16,496.39 L582.51,497.08 L583.86,497.76 L585.21,498.45 L586.56,499.13 L587.91,499.82 L589.26,500.51 L590.61,501.21 L591.96,501.90 L593.31,502.60 L594.66,503.29 L596.01,503.99 L597.36,504.69 L598.71,505.39 L600.06,506.10 L601.41,506.80 L602.76,507.51 L604.11,508.22 L605.46,508.93 L606.81,509.64 L608.16,510.35 L609.51,511.06 L610.86,511.77 L612.21,512.49 L613.56,513.21 L614.91,513.93 L616.26,514.64 L617.61,515.37 L618.96,516.09 L620.31,516.81 L621.66,517.53 L623.01,518.26 L624.36,518.99 L625.71,519.71 L627.06,520.44 L628.41,521.17 L629.76,521.90 L631.11,522.64 L632.46,523.37 L633.81,524.10 L635.16,524.84 L636.51,525.57 L637.86,526.31 L639.21,527.05 L640.56,527.79 L641.91,528.53 L643.26,529.27 L644.61,530.01 L645.96,530.75 L647.31,531.50 L648.66,532.24 L650.01,532.99 L651.36,533.73 L652.71,534.48 L654.06,535.23 L655.41,535.98 L656.76,536.73 L658.11,537.48 L659.46,538.23 L660.81,538.98 L662.16,539.74 L663.51,540.49 L664.86,541.25 L666.21,542.00 L667.56,542.76 L668.91,543.51 L670.26,544.27 L671.61,545.03" fill="none" stroke="#3a0d12" stroke-width="1.9"/>
<rect x="401.60" y="356.30" width="282.10" height="209.70" fill="none" stroke="#3c3c3c" stroke-width="1"/>
<text x="401.60" y="580.80" text-anchor="middle" class="tk">0</text>
<line x1="468.77" y1="566.00" x2="468.77" y2="563.20" stroke="#3c3c3c" stroke-width="0.9"/>
<line x1="468.77" y1="356.30" x2="468.77" y2="359.10" stroke="#3c3c3c" stroke-width="0.9"/>
<text x="468.77" y="580.80" text-anchor="middle" class="tk">5</text>
<line x1="535.93" y1="566.00" x2="535.93" y2="563.20" stroke="#3c3c3c" stroke-width="0.9"/>
<line x1="535.93" y1="356.30" x2="535.93" y2="359.10" stroke="#3c3c3c" stroke-width="0.9"/>
<text x="535.93" y="580.80" text-anchor="middle" class="tk">10</text>
<line x1="603.10" y1="566.00" x2="603.10" y2="563.20" stroke="#3c3c3c" stroke-width="0.9"/>
<line x1="603.10" y1="356.30" x2="603.10" y2="359.10" stroke="#3c3c3c" stroke-width="0.9"/>
<text x="603.10" y="580.80" text-anchor="middle" class="tk">15</text>
<line x1="670.27" y1="566.00" x2="670.27" y2="563.20" stroke="#3c3c3c" stroke-width="0.9"/>
<line x1="670.27" y1="356.30" x2="670.27" y2="359.10" stroke="#3c3c3c" stroke-width="0.9"/>
<text x="670.27" y="580.80" text-anchor="middle" class="tk">20</text>
<line x1="401.60" y1="377.27" x2="404.40" y2="377.27" stroke="#3c3c3c" stroke-width="0.9"/>
<line x1="683.70" y1="377.27" x2="680.90" y2="377.27" stroke="#3c3c3c" stroke-width="0.9"/>
<text x="396.50" y="381.27" text-anchor="end" class="tk">40</text>
<line x1="401.60" y1="419.21" x2="404.40" y2="419.21" stroke="#3c3c3c" stroke-width="0.9"/>
<line x1="683.70" y1="419.21" x2="680.90" y2="419.21" stroke="#3c3c3c" stroke-width="0.9"/>
<text x="396.50" y="423.21" text-anchor="end" class="tk">30</text>
<line x1="401.60" y1="461.15" x2="404.40" y2="461.15" stroke="#3c3c3c" stroke-width="0.9"/>
<line x1="683.70" y1="461.15" x2="680.90" y2="461.15" stroke="#3c3c3c" stroke-width="0.9"/>
<text x="396.50" y="465.15" text-anchor="end" class="tk">20</text>
<line x1="401.60" y1="503.09" x2="404.40" y2="503.09" stroke="#3c3c3c" stroke-width="0.9"/>
<line x1="683.70" y1="503.09" x2="680.90" y2="503.09" stroke="#3c3c3c" stroke-width="0.9"/>
<text x="396.50" y="507.09" text-anchor="end" class="tk">10</text>
<line x1="401.60" y1="545.03" x2="404.40" y2="545.03" stroke="#3c3c3c" stroke-width="0.9"/>
<line x1="683.70" y1="545.03" x2="680.90" y2="545.03" stroke="#3c3c3c" stroke-width="0.9"/>
<text x="396.50" y="549.03" text-anchor="end" class="tk">0</text>
<text x="490.26" y="349.70" text-anchor="middle" class="tk">0.56</text>
<text x="668.92" y="349.70" text-anchor="middle" class="tk">0.9</text>
<text transform="translate(369.50,461.15) rotate(-90)" text-anchor="middle" class="al">Phase (<tspan class="pi">π</tspan>)</text>
<text x="542.65" y="598.20" text-anchor="middle" class="al"><tspan class="bi">r</tspan> (µm)</text>
<text x="536.70" y="330.30" text-anchor="middle" class="na">NA</text>
<rect x="610.40" y="363.30" width="67.00" height="33.10" fill="#fff" stroke="#3c3c3c" stroke-width="0.9"/>
<line x1="613.00" y1="369.40" x2="637.80" y2="369.40" stroke="#e0503f" stroke-width="1.5"/>
<text x="641.00" y="372.50" font-size="9.2" fill="#262626">650 nm</text>
<line x1="613.00" y1="379.80" x2="637.80" y2="379.80" stroke="#3f77c4" stroke-width="1.5"/>
<text x="641.00" y="382.90" font-size="9.2" fill="#262626">800 nm</text>
<line x1="613.00" y1="390.10" x2="637.80" y2="390.10" stroke="#3a0d12" stroke-width="1.5"/>
<text x="641.00" y="393.20" font-size="9.2" fill="#262626">1000 nm</text>
<text x="481.30" y="397.50" class="rl">r<tspan font-size="6.3" dy="2.3" font-style="normal">1</tspan></text>
<text x="516.50" y="416.50" class="rl">r<tspan font-size="6.3" dy="2.3" font-style="normal">2</tspan></text>
<text x="552.50" y="440.50" class="rl">r<tspan font-size="6.3" dy="2.3" font-style="normal">3</tspan></text>
<text x="588.00" y="467.00" class="rl">r<tspan font-size="6.3" dy="2.3" font-style="normal">4</tspan></text>
<text x="623.00" y="496.50" class="rl">r<tspan font-size="6.3" dy="2.3" font-style="normal">5</tspan></text>
<text x="658.00" y="524.50" class="rl">r<tspan font-size="6.3" dy="2.3" font-style="normal">6</tspan></text>
<text x="657.5" y="555.3" class="rl" font-style="italic">R</text>
<text x="359.3" y="329.8" class="pl">d</text>
<text x="-0.7" y="15.5" class="pl">a</text>
</svg>
</body></html>
